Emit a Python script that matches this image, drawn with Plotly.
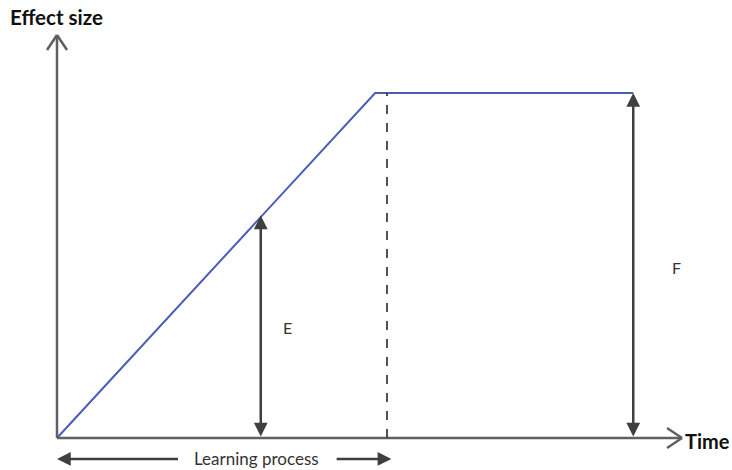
import plotly.graph_objects as go

# Conceptual data (time units 0-100, effect units 0-100)
time_pts = [0, 50.9, 92.2]
effect_pts = [0, 85.6, 85.6]
learning_end = 52.8          # end of learning process (dashed line)
e_time, e_effect = 32.6, 55.2
f_time, f_effect = 92.2, 85.6
axis_max = [100, 100]        # length of drawn x and y axes
labels = {"y": "Effect size", "x": "Time", "e": "E", "f": "F", "learn": "Learning process"}

BLUE = "#4a5cb8"
DARK = "#3f3f3f"
AXIS = "#606060"
FONT = "Lato"

fig = go.Figure()
fig.add_trace(go.Scatter(x=time_pts, y=effect_pts, mode="lines",
                         line=dict(color=BLUE, width=2), hoverinfo="skip",
                         showlegend=False))

shapes = []
shapes.append(dict(type="line", xref="x", yref="y", x0=0, y0=0, x1=axis_max[0], y1=0,
                   line=dict(color=AXIS, width=2.5)))
shapes.append(dict(type="line", xref="x", yref="y", x0=0, y0=0, x1=0, y1=axis_max[1],
                   line=dict(color=AXIS, width=2.5)))
for dx in (-10, 10):
    shapes.append(dict(type="line", xref="x", yref="y", xsizemode="pixel", ysizemode="pixel",
                       xanchor=0, yanchor=axis_max[1], x0=dx, y0=-15, x1=0, y1=0,
                       line=dict(color=AXIS, width=2.5)))
for dy in (-10, 10):
    shapes.append(dict(type="line", xref="x", yref="y", xsizemode="pixel", ysizemode="pixel",
                       xanchor=axis_max[0], yanchor=0, x0=-15, y0=dy, x1=0, y1=0,
                       line=dict(color=AXIS, width=2.5)))
shapes.append(dict(type="line", xref="x", yref="y", x0=learning_end, y0=0, x1=learning_end,
                   y1=effect_pts[1], line=dict(color=DARK, width=1.8, dash="dash")))

annotations = []
for (xx, yy) in [(e_time, e_effect), (f_time, f_effect)]:
    annotations.append(dict(x=xx, y=yy, ax=xx, ay=0, xref="x", yref="y", axref="x", ayref="y",
                            text="", showarrow=True, arrowhead=2, startarrowhead=2,
                            arrowside="end+start", arrowsize=1.1, arrowwidth=2.5,
                            arrowcolor=DARK, standoff=0, startstandoff=0))
LY = -5.2
annotations.append(dict(x=0, y=LY, ax=19.6, ay=LY, xref="x", yref="y", axref="x", ayref="y",
                        text="", showarrow=True, arrowhead=2, arrowsize=1.1, arrowwidth=2.5,
                        arrowcolor=DARK))
annotations.append(dict(x=53.5, y=LY, ax=44.5, ay=LY, xref="x", yref="y", axref="x", ayref="y",
                        text="", showarrow=True, arrowhead=2, arrowsize=1.1, arrowwidth=2.5,
                        arrowcolor=DARK))
annotations.append(dict(x=31.9, y=LY, xref="x", yref="y", text=labels["learn"], showarrow=False,
                        font=dict(family=FONT, size=17, color="#333333")))
annotations.append(dict(x=e_time + 4.3, y=27.5, xref="x", yref="y", text=labels["e"], showarrow=False,
                        font=dict(family=FONT, size=16, color="#333333")))
annotations.append(dict(x=f_time + 6.9, y=42.2, xref="x", yref="y", text=labels["f"], showarrow=False,
                        font=dict(family=FONT, size=16, color="#333333")))
annotations.append(dict(x=-7.84, y=104.5, xref="x", yref="y", xanchor="left",
                        text="<b>" + labels["y"] + "</b>", showarrow=False,
                        font=dict(family=FONT, size=20.5, color="#111111")))
annotations.append(dict(x=100.2, y=-0.8, xref="x", yref="y", xanchor="left",
                        text="<b>" + labels["x"] + "</b>", showarrow=False,
                        font=dict(family=FONT, size=20, color="#111111")))

fig.update_layout(
    width=732, height=470,
    margin=dict(l=0, r=0, t=0, b=0),
    paper_bgcolor="white", plot_bgcolor="white",
    xaxis=dict(range=[-9.12, 108.0], visible=False, fixedrange=True),
    yaxis=dict(range=[-7.94, 108.68], visible=False, fixedrange=True),
    shapes=shapes, annotations=annotations, showlegend=False,
)
fig.write_html("out.html", config={"displayModeBar": False},
               post_script="document.body.style.margin='0';document.body.style.overflow='hidden';")
